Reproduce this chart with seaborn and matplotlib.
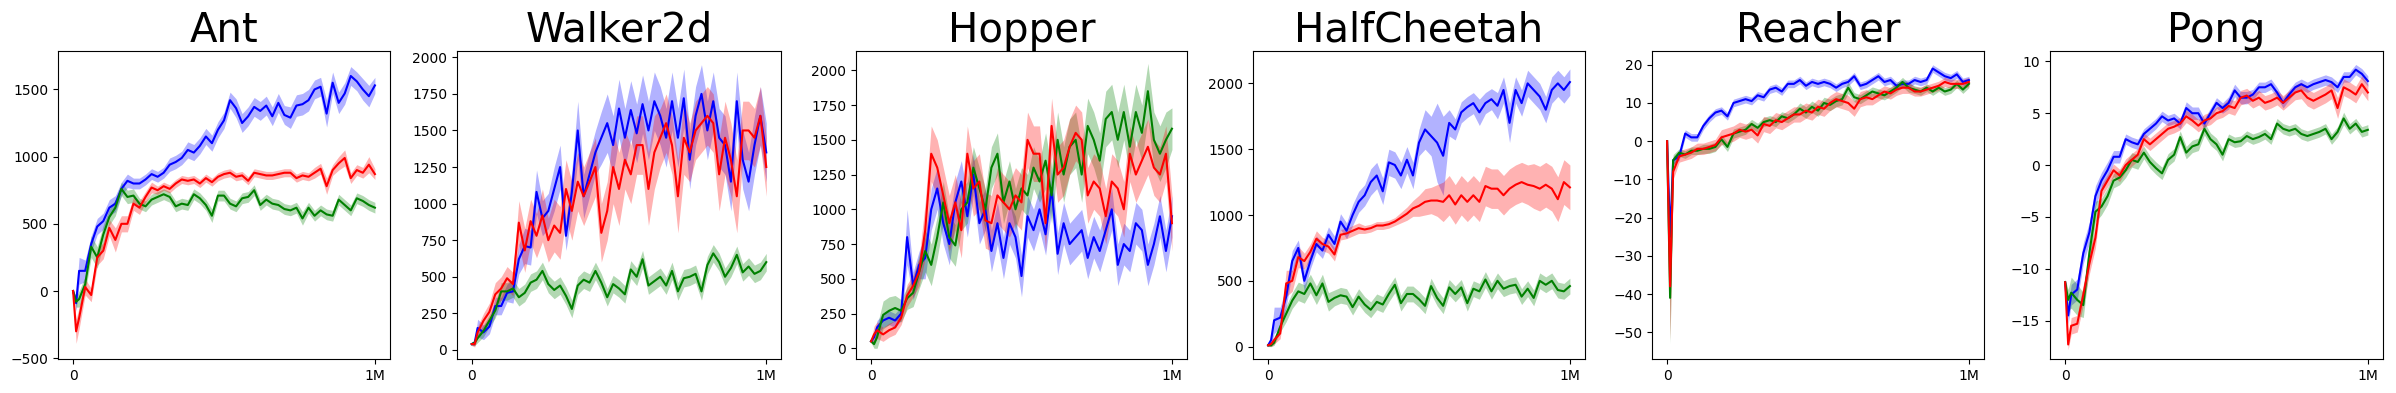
import numpy as np
import matplotlib
matplotlib.use("Agg")
import matplotlib.pyplot as plt
import seaborn as sns

# training steps: 0, 10k, then every 20k up to 1M
steps = np.concatenate(([0, 10000], np.arange(20000, 1000001, 20000)))

titles = ['Ant', 'Walker2d', 'Hopper', 'HalfCheetah', 'Reacher', 'Pong']

# ---- Ant ----
ant_blue = [0, -90, 150, 150, 350, 480, 520, 620, 650, 760, 820, 800,
            800, 830, 870, 850, 880, 940, 960, 990, 1050, 1030,
            1080, 1150, 1100, 1200, 1270, 1420, 1360, 1250, 1300, 1370,
            1340, 1380, 1300, 1400, 1310, 1290, 1380, 1390, 1420, 1500,
            1520, 1320, 1550, 1400, 1470, 1600, 1560, 1500, 1450, 1530]
ant_blue_sd = [0, 60, 100, 80, 60, 60, 60, 60, 60, 50, 50, 40,
               40, 40, 40, 40, 40, 50, 50, 50, 60, 60,
               60, 60, 60, 60, 60, 60, 70, 70, 70, 70,
               70, 70, 70, 70, 70, 80, 80, 80, 80, 70,
               70, 100, 80, 80, 80, 70, 70, 80, 80, 60]
ant_red = [0, -300, -200, 30, -30, 250, 300, 470, 380, 500, 500, 650,
           620, 700, 770, 750, 780, 760, 800, 830, 820, 830,
           800, 840, 810, 850, 870, 880, 850, 860, 820, 880,
           870, 860, 860, 870, 880, 880, 840, 860, 850, 880,
           910, 780, 900, 950, 990, 840, 900, 880, 940, 870]
ant_red_sd = [0, 90, 80, 60, 50, 60, 60, 60, 90, 60, 60, 50,
              50, 40, 40, 30, 30, 30, 30, 30, 30, 30,
              30, 30, 30, 30, 30, 30, 30, 30, 30, 30,
              30, 30, 30, 30, 30, 30, 30, 30, 30, 40,
              40, 60, 40, 50, 60, 40, 40, 40, 60, 40]
ant_green = [0, -80, -60, 50, 330, 250, 420, 550, 620, 760, 700, 710,
             650, 630, 680, 700, 720, 700, 630, 650, 640, 720,
             690, 640, 560, 710, 710, 650, 630, 690, 700, 750,
             640, 680, 650, 640, 610, 600, 620, 540, 620, 560,
             600, 570, 560, 680, 640, 600, 690, 670, 640, 620]
ant_green_sd = [0, 40, 60, 60, 80, 80, 70, 60, 60, 50, 50, 50,
                40, 40, 40, 40, 40, 40, 40, 40, 40, 40,
                40, 40, 50, 40, 40, 40, 40, 40, 40, 40,
                40, 40, 40, 40, 40, 40, 40, 50, 40, 40,
                40, 40, 40, 40, 40, 40, 40, 40, 40, 40]

# ---- Walker2d ----
walker_blue = [40, 50, 150, 120, 160, 300, 300, 390, 400, 620, 710, 700,
               1080, 900, 950, 1100, 1250, 780, 1080, 1500, 1050, 1200,
               1350, 1450, 1550, 1400, 1650, 1450, 1640, 1480, 1680, 1500,
               1700, 1600, 1450, 1700, 1450, 1720, 1300, 1600, 1750, 1500,
               1700, 1450, 1400, 1150, 1700, 1300, 1150, 1400, 1600, 1350]
walker_blue_sd = [10, 20, 60, 50, 50, 60, 60, 60, 80, 100, 120, 120,
                  150, 120, 120, 150, 150, 100, 150, 200, 150, 150,
                  150, 180, 200, 200, 200, 200, 200, 200, 200, 200,
                  200, 200, 200, 200, 200, 200, 200, 200, 200, 200,
                  200, 200, 200, 200, 200, 200, 200, 200, 200, 200]
walker_red = [40, 40, 120, 200, 260, 380, 420, 490, 450, 870, 680, 880,
              780, 920, 750, 850, 800, 1100, 950, 1150, 1050, 1150,
              1250, 800, 950, 1250, 1100, 1300, 1200, 1400, 1400, 1100,
              1350, 1450, 1550, 1400, 1050, 1450, 1350, 1500, 1550, 1600,
              1550, 1200, 1450, 1300, 1050, 1500, 1500, 1450, 1600, 1250]
walker_red_sd = [10, 20, 40, 50, 60, 80, 80, 80, 80, 150, 150, 150,
                 150, 180, 150, 180, 180, 200, 200, 200, 200, 200,
                 200, 200, 200, 250, 250, 200, 200, 200, 200, 250,
                 250, 200, 200, 200, 250, 250, 200, 200, 200, 200,
                 200, 250, 250, 250, 250, 200, 200, 200, 200, 200]
walker_green = [40, 50, 80, 130, 200, 270, 400, 400, 420, 360, 390, 460,
                480, 540, 450, 410, 440, 370, 280, 440, 480, 460,
                540, 460, 360, 450, 420, 380, 550, 500, 620, 440,
                470, 500, 440, 540, 400, 490, 500, 520, 400, 580,
                660, 600, 500, 560, 650, 530, 570, 520, 540, 600]
walker_green_sd = [10, 20, 30, 40, 40, 50, 60, 60, 60, 60, 60, 60,
                   60, 60, 60, 60, 60, 60, 60, 60, 60, 60,
                   60, 60, 60, 60, 60, 60, 60, 60, 60, 60,
                   60, 60, 60, 60, 60, 60, 60, 60, 60, 60,
                   60, 60, 60, 60, 60, 60, 60, 60, 60, 60]

# ---- Hopper ----
hopper_blue = [50, 80, 150, 200, 220, 200, 250, 800, 450, 600, 650, 1000,
               1150, 900, 750, 1050, 1200, 950, 1250, 900, 1000, 700,
               900, 650, 900, 800, 520, 950, 850, 1000, 820, 1150,
               680, 900, 750, 800, 850, 650, 800, 700, 850, 1000,
               600, 750, 700, 900, 850, 600, 750, 950, 700, 950]
hopper_blue_sd = [10, 30, 50, 50, 50, 50, 50, 200, 100, 100, 150, 150,
                  150, 150, 150, 150, 150, 150, 150, 150, 150, 150,
                  150, 150, 150, 150, 150, 150, 150, 150, 150, 150,
                  150, 150, 150, 150, 150, 150, 150, 150, 150, 150,
                  150, 150, 150, 150, 150, 150, 150, 150, 150, 150]
hopper_red = [50, 100, 130, 100, 130, 150, 220, 380, 450, 550, 850, 1400,
              1300, 1100, 900, 1050, 850, 1400, 1150, 1200, 920, 900,
              1100, 1050, 1000, 1100, 1050, 1500, 1400, 1400, 900, 1600,
              1250, 1300, 1450, 1550, 1500, 1100, 1200, 1150, 950, 1200,
              1150, 1000, 1400, 1250, 1350, 1450, 1300, 1250, 1400, 900]
hopper_red_sd = [10, 60, 60, 50, 50, 50, 50, 80, 80, 100, 200, 200,
                 200, 200, 200, 200, 200, 200, 200, 200, 200, 200,
                 200, 200, 200, 200, 200, 200, 200, 200, 200, 200,
                 200, 200, 200, 200, 200, 200, 200, 200, 200, 200,
                 200, 200, 200, 200, 200, 200, 200, 200, 200, 200]
hopper_green = [50, 30, 80, 240, 270, 290, 270, 360, 400, 550, 700, 600,
                800, 1050, 800, 740, 1000, 1050, 1300, 1150, 1000, 1300,
                1400, 1050, 1200, 1000, 1150, 1100, 1300, 1200, 1350, 1100,
                1500, 1250, 1450, 1500, 1250, 1600, 1500, 1350, 1650, 1700,
                1500, 1700, 1450, 1700, 1550, 1850, 1500, 1400, 1500, 1580]
hopper_green_sd = [10, 30, 80, 100, 100, 90, 80, 80, 100, 120, 150, 150,
                   150, 150, 150, 150, 150, 150, 150, 150, 150, 150,
                   150, 150, 150, 150, 150, 150, 150, 150, 200, 200,
                   200, 200, 200, 200, 200, 200, 200, 200, 200, 200,
                   200, 200, 200, 200, 200, 200, 200, 200, 200, 150]

# ---- HalfCheetah ----
hc_blue = [10, 50, 200, 220, 380, 650, 750, 500, 650, 780, 730, 850,
           780, 950, 880, 1000, 1100, 1150, 1250, 1300, 1180, 1400,
           1380, 1300, 1420, 1300, 1550, 1650, 1600, 1550, 1450, 1700,
           1650, 1780, 1820, 1850, 1780, 1850, 1880, 1830, 1950, 1700,
           1950, 1850, 2000, 1950, 1900, 1800, 1950, 2000, 1950, 2010]
hc_blue_sd = [10, 30, 100, 80, 80, 80, 60, 80, 60, 60, 60, 60,
              60, 60, 60, 80, 80, 80, 100, 100, 100, 100,
              100, 100, 100, 100, 100, 150, 150, 300, 300, 100,
              80, 80, 80, 80, 100, 80, 80, 100, 100, 150,
              100, 100, 100, 100, 100, 100, 100, 100, 100, 100]
hc_red = [10, 20, 50, 100, 480, 500, 680, 650, 720, 820, 780, 760,
          700, 850, 860, 880, 900, 890, 900, 920, 920, 930,
          950, 980, 1010, 1050, 1070, 1100, 1110, 1110, 1100, 1150,
          1080, 1150, 1100, 1150, 1100, 1220, 1200, 1200, 1150, 1200,
          1230, 1250, 1230, 1220, 1200, 1230, 1200, 1120, 1250, 1210]
hc_red_sd = [10, 20, 30, 40, 100, 80, 80, 60, 60, 60, 50, 50,
             50, 40, 40, 40, 40, 30, 30, 30, 30, 30,
             30, 40, 50, 60, 80, 100, 100, 120, 150, 150,
             150, 150, 150, 150, 150, 150, 150, 150, 150, 150,
             150, 150, 150, 170, 170, 170, 170, 170, 170, 170]
hc_green = [10, 10, 30, 150, 250, 350, 420, 400, 480, 390, 480, 340,
            370, 390, 380, 300, 380, 320, 280, 340, 320, 400,
            470, 330, 400, 400, 360, 310, 460, 370, 310, 450,
            400, 450, 330, 440, 420, 510, 420, 500, 440, 460,
            470, 380, 440, 370, 500, 470, 500, 430, 420, 460]
hc_green_sd = [5, 10, 20, 40, 60, 60, 70, 70, 70, 70, 70, 70,
               60, 60, 60, 60, 60, 60, 60, 60, 60, 60,
               60, 60, 60, 60, 60, 60, 60, 60, 60, 60,
               60, 60, 60, 60, 60, 60, 60, 60, 60, 60,
               60, 60, 60, 60, 60, 60, 60, 60, 60, 60]

# ---- Reacher ----
reacher_blue = [0, -25, -5, -4, 2, 1, 1, 4, 6, 7.5, 8, 6.5,
                10, 10.5, 11, 10.5, 12, 11.5, 13.5, 14, 13, 15,
                15, 16, 14.5, 15.5, 15, 15.5, 15, 14, 15, 15.5,
                17, 14.5, 15, 16, 17, 15.5, 16, 14.5, 15, 15,
                16, 15.5, 16, 19, 18, 17, 16.5, 17.5, 15.5, 16]
reacher_blue_sd = [0.5, 2, 1, 1, 1, 1, 1, 1, 1, 1, 1, 1,
                   1, 1, 1, 1, 1, 1, 1, 1, 1, 1,
                   1, 1, 1, 1, 1, 1, 1, 1, 1, 1,
                   1, 1, 1, 1, 1, 1, 1, 1, 1, 1,
                   1, 1, 1, 1, 1, 1, 1, 1, 1, 1]
reacher_red = [0, -38, -8, -4, -3.5, -3, -2, -2, -1.5, -1, 1, 1.5,
               2, 3, 2.5, 3, 1.5, 4.5, 4, 5.5, 5, 6,
               7, 7, 8, 7.5, 9, 8.5, 10, 11, 10.5, 10,
               8.5, 11, 11.5, 11, 12, 13, 12.5, 13.5, 14, 14,
               13, 13, 13.5, 14, 14.5, 15.5, 15, 15, 15, 15.5]
reacher_red_sd = [0.5, 14, 2, 1.5, 1.5, 1.5, 1.5, 1.5, 1.5, 1.5, 2, 2,
                  2, 2, 2, 2, 2, 2, 2, 2, 2, 2,
                  2, 2, 2, 2, 2, 2, 2, 2, 2, 2,
                  2, 2, 2, 1.5, 1.5, 1.5, 1.5, 1.5, 1.5, 1.5,
                  1.2, 1.2, 1.2, 1.2, 1.2, 1.2, 1.2, 1.2, 1.2, 1.2]
reacher_green = [0, -41, -5, -3, -3.5, -2.5, -2.5, -2, -2, -1.5, 0.5, -1.5,
                 2, 2.5, 3, 4.5, 3.5, 5, 5.5, 5, 6.5, 6,
                 7, 8.5, 7.5, 9, 8, 10, 9.5, 10.5, 11, 14,
                 11.5, 11, 12, 13, 12.5, 12, 13, 14, 15.5, 14,
                 13.5, 13, 14, 13, 14, 13, 13.5, 15, 13.5, 15]
reacher_green_sd = [0.5, 12, 1.5, 1, 1, 1, 1, 1.2, 1.2, 1.2, 1.2, 1.2,
                    1.2, 1.2, 1.2, 1.2, 1.2, 1.2, 1.2, 1.2, 1.2, 1.2,
                    1.2, 1.5, 1.5, 1.5, 1.5, 1.5, 1.5, 1.5, 1.5, 1.5,
                    1.2, 1.2, 1.2, 1.2, 1.2, 1.2, 1.2, 1.2, 1.2, 1.2,
                    1, 1, 1, 1, 1, 1, 1, 1, 1, 1]

# ---- Pong ----
pong_blue = [-11.3, -14.5, -12.5, -12, -8.5, -6.5, -3, -1.5, -0.5, 0.8, 0.8, 2.5,
             2.2, 2, 3, 3.5, 4, 4.7, 4.3, 4.5, 4, 5.5,
             5, 5, 4, 5, 6, 5.5, 6, 7.2, 6.5, 6.5,
             6.8, 7.5, 7.5, 7.8, 7, 6, 6.8, 7.5, 7.8, 7.5,
             7.8, 8, 8.2, 8, 7.5, 8.5, 8.5, 9.2, 8.8, 8.1]
pong_blue_sd = [0.3, 0.8, 1, 1, 1, 1, 1, 0.8, 0.8, 0.6, 0.6, 0.5,
                0.5, 0.5, 0.5, 0.5, 0.5, 0.5, 0.5, 0.5, 0.5, 0.6,
                0.6, 0.6, 0.5, 0.5, 0.5, 0.5, 0.6, 0.6, 0.6, 0.6,
                0.5, 0.5, 0.5, 0.5, 0.5, 0.5, 0.5, 0.5, 0.5, 0.5,
                0.5, 0.5, 0.5, 0.5, 0.5, 0.5, 0.5, 0.5, 0.5, 0.5]
pong_red = [-11.3, -17.3, -15.5, -15.3, -12.5, -9.5, -7, -2.5, -1.5, -0.5, -1, 0,
            0.5, 1, 2.5, 2, 2.5, 3, 3.5, 3.7, 4, 4.7,
            4.3, 3.8, 4.3, 4.5, 5, 5.2, 5.7, 5.5, 6.5, 6.7,
            6.2, 6.5, 6, 6.2, 6.5, 6, 6.5, 7, 7.2, 6.5,
            6.2, 6.5, 6.8, 7.2, 5.5, 7.5, 7.2, 6.8, 7.8, 7]
pong_red_sd = [0.3, 0.5, 0.8, 0.8, 1, 1, 1, 0.6, 0.6, 0.6, 0.6, 0.6,
               0.6, 0.6, 0.6, 0.6, 0.6, 0.6, 0.6, 0.6, 0.6, 0.6,
               0.6, 0.6, 0.6, 0.6, 0.6, 0.6, 0.7, 0.7, 0.7, 0.7,
               0.7, 0.7, 0.7, 0.7, 0.7, 0.7, 0.7, 0.7, 0.8, 0.8,
               0.8, 0.8, 0.8, 0.8, 1.0, 0.8, 0.8, 0.8, 0.8, 0.8]
pong_green = [-11.3, -13, -12.3, -13, -13.5, -8.5, -4.5, -4, -3, -1.5, -1.2, -0.5,
              0.5, 0.3, 1.2, 0.3, -0.3, -0.8, 0.5, 1, 2.7, 1.2,
              1.8, 2, 3.5, 2.5, 2, 1, 2.5, 2.2, 2.3, 2.8,
              2.5, 2.7, 3, 2.5, 4, 3.5, 3.3, 3.5, 3, 2.8,
              3, 3.2, 3.5, 2.5, 3.2, 4.5, 3.5, 4, 3.2, 3.4]
pong_green_sd = [0.3, 1, 1.5, 1.5, 1.2, 1.2, 1, 0.8, 0.8, 0.7, 0.7, 0.7,
                 0.7, 0.7, 0.6, 0.6, 0.6, 0.6, 0.6, 0.6, 0.6, 0.6,
                 0.6, 0.6, 0.6, 0.6, 0.6, 0.6, 0.5, 0.5, 0.5, 0.5,
                 0.5, 0.5, 0.5, 0.5, 0.5, 0.5, 0.5, 0.5, 0.5, 0.5,
                 0.5, 0.5, 0.5, 0.5, 0.5, 0.6, 0.5, 0.5, 0.5, 0.5]

runs = [
    [(ant_blue, ant_blue_sd), (ant_green, ant_green_sd), (ant_red, ant_red_sd)],
    [(walker_blue, walker_blue_sd), (walker_green, walker_green_sd), (walker_red, walker_red_sd)],
    [(hopper_blue, hopper_blue_sd), (hopper_green, hopper_green_sd), (hopper_red, hopper_red_sd)],
    [(hc_blue, hc_blue_sd), (hc_green, hc_green_sd), (hc_red, hc_red_sd)],
    [(reacher_blue, reacher_blue_sd), (reacher_green, reacher_green_sd), (reacher_red, reacher_red_sd)],
    [(pong_blue, pong_blue_sd), (pong_green, pong_green_sd), (pong_red, pong_red_sd)],
]
colors = ['blue', 'green', 'red']

ylims = [(-506, 1786), (-62, 2043), (-77, 2139), (-94, 2246), (-57.0, 23.6), (-18.7, 11.0)]
yticks = [[-500, 0, 500, 1000, 1500],
          [0, 250, 500, 750, 1000, 1250, 1500, 1750, 2000],
          [0, 250, 500, 750, 1000, 1250, 1500, 1750, 2000],
          [0, 500, 1000, 1500, 2000],
          [-50, -40, -30, -20, -10, 0, 10, 20],
          [-15, -10, -5, 0, 5, 10]]

# axes placement in pixels (left, width)
W, H = 2396, 393
lefts = [58, 457, 856, 1253, 1652, 2050]
widths = [332, 324, 331, 332, 332, 333]
top_px, bot_px = 51, 359

fig = plt.figure(figsize=(W / 100, H / 100), dpi=100)
for i in range(6):
    ax = fig.add_axes([lefts[i] / W, (H - bot_px) / H, widths[i] / W, (bot_px - top_px) / H])
    for (mean, sd), c in zip(runs[i], colors):
        mean = np.array(mean, dtype=float)
        sd = np.array(sd, dtype=float)
        ax.fill_between(steps, mean - sd, mean + sd, color=c, alpha=0.3, linewidth=0)
        sns.lineplot(x=steps, y=mean, ax=ax, color=c, linewidth=1.5, legend=False)
    ax.set_title(titles[i], fontsize=29)
    ax.set_xticks([0, 1000000])
    ax.set_xticklabels(['0', '1M'])
    ax.set_xlim(-50000, 1050000)
    ax.set_yticks(yticks[i])
    ax.set_ylim(*ylims[i])
    ax.set_xlabel('')
    ax.set_ylabel('')

plt.savefig('out.png', dpi=100)
